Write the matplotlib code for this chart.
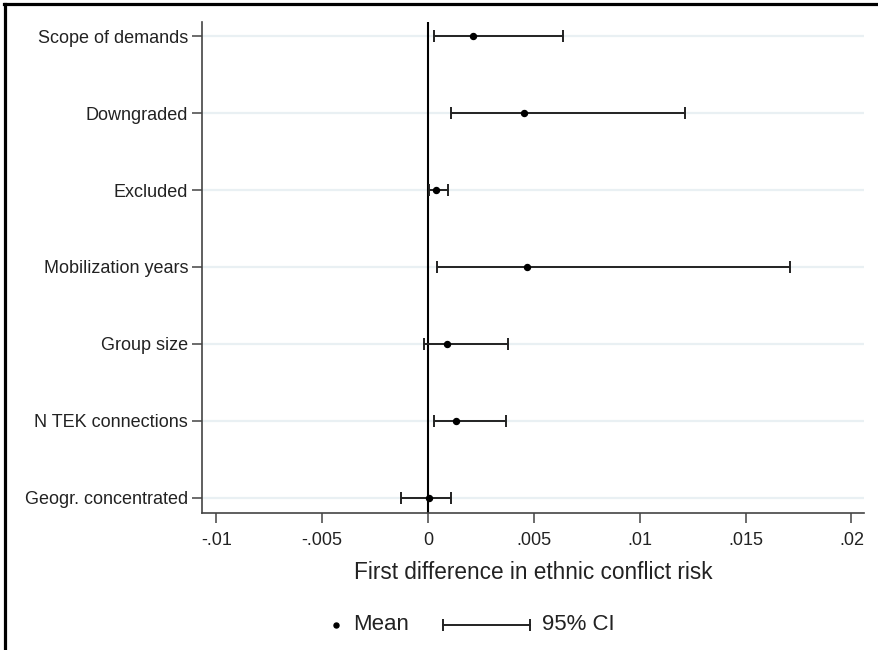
import numpy as np
import matplotlib
matplotlib.use("Agg")
import matplotlib.pyplot as plt
from matplotlib.lines import Line2D

plt.rcParams["font.family"] = ["Liberation Sans", "DejaVu Sans"]

# data
labels = [
    "Scope of demands",
    "Downgraded",
    "Excluded",
    "Mobilization years",
    "Group size",
    "N TEK connections",
    "Geogr. concentrated",
]
means = np.array([0.00213, 0.00452, 0.00040, 0.00468, 0.00088, 0.00130, 0.00007])
lower = np.array([0.00028, 0.00107, 0.00005, 0.00043, -0.00019, 0.00028, -0.00128])
upper = np.array([0.00638, 0.01214, 0.00095, 0.01710, 0.00380, 0.00368, 0.00107])
xticks = [-0.01, -0.005, 0, 0.005, 0.01, 0.015, 0.02]
xticklabels = ["-.01", "-.005", "0", ".005", ".01", ".015", ".02"]

W, H = 879, 650
fig = plt.figure(figsize=(W / 100, H / 100), dpi=100)
ax = fig.add_axes([202 / W, 1 - 513 / H, (864 - 202) / W, (513 - 22) / H])
ax.set_axisbelow(True)

ypos = np.arange(len(labels))

ax.yaxis.grid(True, color="#e9f0f3", lw=1.6)
ax.xaxis.grid(False)
ax.axvline(0, color="black", lw=1.5, zorder=1.5)
ax.errorbar(
    means,
    ypos,
    xerr=[means - lower, upper - means],
    fmt="o",
    color="black",
    ecolor="#222222",
    elinewidth=1.4,
    capsize=4.2,
    capthick=1.4,
    ms=4.3,
    zorder=3,
)

ax.set_xlim(-0.010676, 0.020595)
ax.set_ylim(6.195, -0.182)
ax.set_yticks(ypos)
ax.set_yticklabels(labels)
ax.set_xticks(xticks)
ax.set_xticklabels(xticklabels)
ax.tick_params(axis="y", length=7, width=1.1, color="#444444", pad=3,
               labelsize=13, labelcolor="#222222")
ax.tick_params(axis="x", length=7, width=1.1, color="#444444", pad=6.5,
               labelsize=13, labelcolor="#222222")
for side in ["top", "right"]:
    ax.spines[side].set_visible(False)
for side in ["left", "bottom"]:
    ax.spines[side].set_color("#444444")
    ax.spines[side].set_linewidth(1.2)

ax.set_xlabel("First difference in ethnic conflict risk", fontsize=16.3,
              color="#222222", labelpad=9)

### Legend (drawn by hand, Stata style)
ly = 1 - 625 / H
fig.add_artist(Line2D([336 / W], [ly], marker="o", ms=3.6, color="black",
                      transform=fig.transFigure))
fig.text(353 / W, ly, "Mean", fontsize=16, va="center", ha="left", color="#222222")
fig.add_artist(Line2D([443 / W, 530 / W], [ly, ly], lw=1.4, color="#222222",
                      transform=fig.transFigure))
fig.add_artist(Line2D([443 / W, 530 / W], [ly, ly], lw=0, marker="|", ms=9,
                      mew=1.4, color="#222222", transform=fig.transFigure))
fig.text(542 / W, ly, "95% CI", fontsize=16, va="center", ha="left", color="#222222")

### Frame around the figure (top and left only)
fig.add_artist(Line2D([4 / W, 1], [1 - 4 / H, 1 - 4 / H], lw=2.3, color="black",
                      transform=fig.transFigure))
fig.add_artist(Line2D([5 / W, 5 / W], [0, 1 - 4 / H], lw=2.3, color="black",
                      transform=fig.transFigure))

fig.savefig("out.png", dpi=100)
